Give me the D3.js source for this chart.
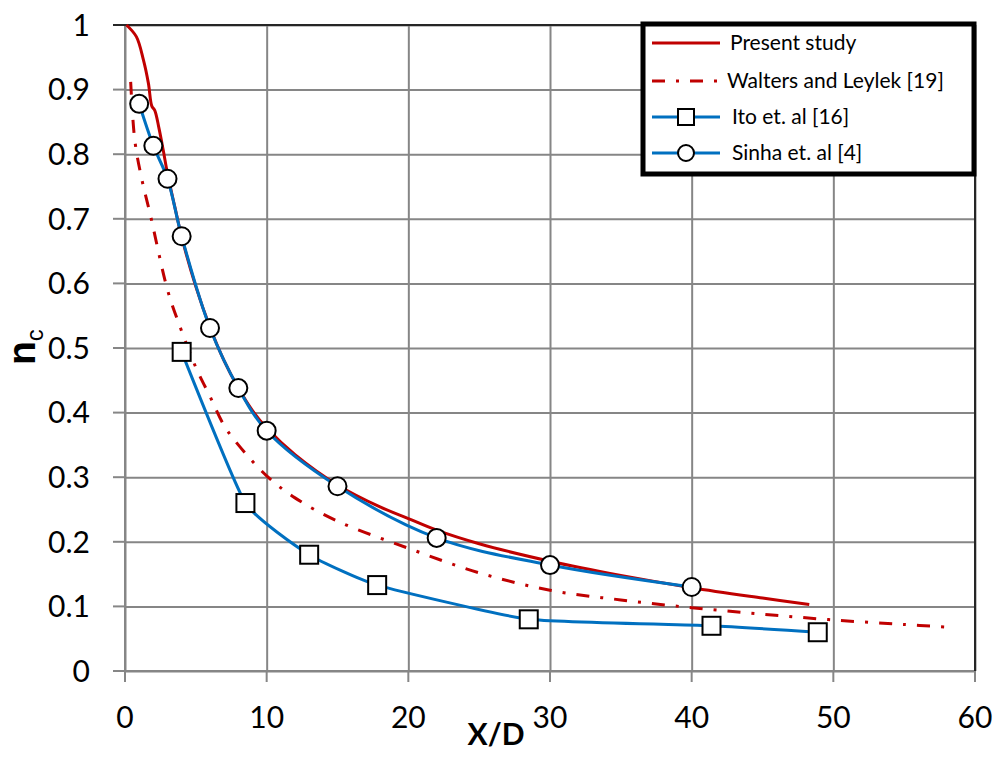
<!DOCTYPE html>
<html>
<head>
<meta charset="utf-8">
<script src="https://cdn.jsdelivr.net/npm/d3@7"></script>
<style>
  body { margin: 0; background: #fff; }
  text { font-family: Lato, "Open Sans", sans-serif; }
</style>
</head>
<body>
<svg id="chart" width="999" height="757"></svg>
<script>
// values
const presentX = [0.1, 0.8, 1.3, 1.65, 1.9, 2.1, 2.4, 2.7, 3.0, 3.5, 4, 5, 6, 7, 8, 9, 10, 12, 15, 18, 20, 22, 25, 30, 35, 40, 45, 48.3];
const presentY = [1.0, 0.982, 0.946, 0.91, 0.874, 0.868, 0.84, 0.806, 0.77, 0.72, 0.672, 0.595, 0.532, 0.48, 0.438, 0.403, 0.376, 0.335, 0.288, 0.254, 0.236, 0.218, 0.197, 0.17, 0.148, 0.129, 0.113, 0.103];

const waltersX = [0.4, 0.7, 1.2, 1.8, 3, 3.8, 5, 6, 7, 8, 10, 12, 15, 20, 25, 30, 35, 40, 45, 50, 55, 58];
const waltersY = [0.912, 0.82, 0.76, 0.705, 0.59, 0.538, 0.47, 0.425, 0.38, 0.35, 0.302, 0.268, 0.232, 0.19, 0.152, 0.125, 0.11, 0.098, 0.088, 0.079, 0.072, 0.068];

const itoX = [4, 8.5, 13, 17.8, 28.5, 41.4, 48.9];
const itoY = [0.494, 0.26, 0.18, 0.133, 0.08, 0.07, 0.06];

const sinhaX = [1, 2, 3, 4, 6, 8, 10, 15, 22, 30, 40];
const sinhaY = [0.878, 0.813, 0.762, 0.673, 0.531, 0.438, 0.372, 0.286, 0.206, 0.164, 0.13];

const xTicks = [0, 10, 20, 30, 40, 50, 60];
const yTicks = [0, 0.1, 0.2, 0.3, 0.4, 0.5, 0.6, 0.7, 0.8, 0.9, 1];

const legendNames = ["Present study", "Walters and Leylek [19]", "Ito et. al [16]", "Sinha et. al [4]"];

const red = "#C00000", blue = "#0070C0", grid = "#868686";

const svg = d3.select("#chart");
const x = d3.scaleLinear().domain([0, 60]).range([125, 975]);
const y = d3.scaleLinear().domain([0, 1]).range([671, 25]);

const zip = (xs, ys) => xs.map((v, i) => [v, ys[i]]);

// grid
svg.append("g")
  .attr("transform", "translate(125,0)")
  .call(d3.axisLeft(y).tickValues(yTicks).tickSizeInner(-850).tickFormat(""))
  .call(g => g.select(".domain").remove())
  .call(g => g.selectAll("line").attr("stroke", grid).attr("stroke-width", 2));
svg.append("g")
  .attr("transform", "translate(0,671)")
  .call(d3.axisBottom(x).tickValues(xTicks).tickSizeInner(-646).tickFormat(""))
  .call(g => g.select(".domain").remove())
  .call(g => g.selectAll("line").attr("stroke", grid).attr("stroke-width", 2));

// outer tick marks
svg.append("g").selectAll("line").data(yTicks).join("line")
  .attr("x1", 113).attr("x2", 125).attr("y1", d => y(d)).attr("y2", d => y(d))
  .attr("stroke", grid).attr("stroke-width", 2);
svg.append("g").selectAll("line").data(xTicks).join("line")
  .attr("x1", d => x(d)).attr("x2", d => x(d)).attr("y1", 671).attr("y2", 682)
  .attr("stroke", grid).attr("stroke-width", 2);

// axes lines / frame
svg.append("line").attr("x1", 125).attr("x2", 125).attr("y1", 25).attr("y2", 682).attr("stroke", grid).attr("stroke-width", 2);
svg.append("line").attr("x1", 113).attr("x2", 975).attr("y1", 671).attr("y2", 671).attr("stroke", grid).attr("stroke-width", 2);
svg.append("line").attr("x1", 113).attr("x2", 976).attr("y1", 25).attr("y2", 25).attr("stroke", "#262626").attr("stroke-width", 2);
svg.append("line").attr("x1", 975).attr("x2", 975).attr("y1", 25).attr("y2", 671).attr("stroke", "#262626").attr("stroke-width", 2);

// tick labels
svg.append("g").selectAll("text").data(yTicks).join("text")
  .attr("x", 90).attr("y", d => y(d)).attr("dy", "0.36em")
  .attr("text-anchor", "end").attr("font-size", 30).attr("fill", "#000")
  .text(d => d3.format("~g")(d));
svg.append("g").selectAll("text").data(xTicks).join("text")
  .attr("x", d => x(d)).attr("y", 728)
  .attr("text-anchor", "middle").attr("font-size", 30).attr("fill", "#000")
  .text(d => d);

// axis titles
svg.append("text").attr("x", 496).attr("y", 745).attr("text-anchor", "middle")
  .attr("font-size", 30).attr("font-weight", "bold").text("X/D");
const yl = svg.append("text").attr("transform", "translate(35,365) rotate(-90)")
  .style("font-family", "'Liberation Sans', Arial, sans-serif");
yl.append("tspan").attr("font-size", 39).attr("font-weight", "bold").text("n");
yl.append("tspan").attr("font-size", 24).attr("dy", 8).text("c");

// series lines
const smooth = d3.line().x(d => x(d[0])).y(d => y(d[1])).curve(d3.curveCatmullRom.alpha(0.5));
const stiff = d3.line().x(d => x(d[0])).y(d => y(d[1])).curve(d3.curveCardinal.tension(0.55));
svg.append("path").datum(zip(presentX, presentY)).attr("d", smooth)
  .attr("fill", "none").attr("stroke", red).attr("stroke-width", 3);
svg.append("path").datum(zip(waltersX, waltersY)).attr("d", smooth)
  .attr("fill", "none").attr("stroke", red).attr("stroke-width", 3)
  .attr("stroke-dasharray", "13,11,3,11");
svg.append("path").datum(zip(itoX, itoY)).attr("d", stiff)
  .attr("fill", "none").attr("stroke", blue).attr("stroke-width", 3);
svg.append("path").datum(zip(sinhaX, sinhaY)).attr("d", smooth)
  .attr("fill", "none").attr("stroke", blue).attr("stroke-width", 3);

// markers
svg.append("g").selectAll("rect").data(zip(itoX, itoY)).join("rect")
  .attr("x", d => x(d[0]) - 9).attr("y", d => y(d[1]) - 9).attr("width", 18).attr("height", 18)
  .attr("fill", "#fff").attr("stroke", "#000").attr("stroke-width", 2);
svg.append("g").selectAll("circle").data(zip(sinhaX, sinhaY)).join("circle")
  .attr("cx", d => x(d[0])).attr("cy", d => y(d[1])).attr("r", 9)
  .attr("fill", "#fff").attr("stroke", "#000").attr("stroke-width", 2);

// legend
const lg = svg.append("g");
lg.append("rect").attr("x", 643).attr("y", 24).attr("width", 331).attr("height", 150)
  .attr("fill", "#fff").attr("stroke", "#000").attr("stroke-width", 5);
const rowY = [43, 81, 117, 153];
const textX = [730, 727, 732, 732];
legendNames.forEach((name, i) => {
  const yy = rowY[i];
  const ln = lg.append("line").attr("x1", 652).attr("x2", 720).attr("y1", yy).attr("y2", yy)
    .attr("stroke", i < 2 ? red : blue).attr("stroke-width", 3);
  if (i === 1) ln.attr("stroke-dasharray", "13,11,3,11");
  if (i === 2) lg.append("rect").attr("x", 678).attr("y", yy - 8).attr("width", 16).attr("height", 16)
    .attr("fill", "#fff").attr("stroke", "#000").attr("stroke-width", 2);
  if (i === 3) lg.append("circle").attr("cx", 686).attr("cy", yy).attr("r", 8)
    .attr("fill", "#fff").attr("stroke", "#000").attr("stroke-width", 2);
  lg.append("text").attr("x", textX[i]).attr("y", yy).attr("dy", "0.35em")
    .attr("font-size", 21).attr("fill", "#000").text(name);
});
</script>
</body>
</html>
